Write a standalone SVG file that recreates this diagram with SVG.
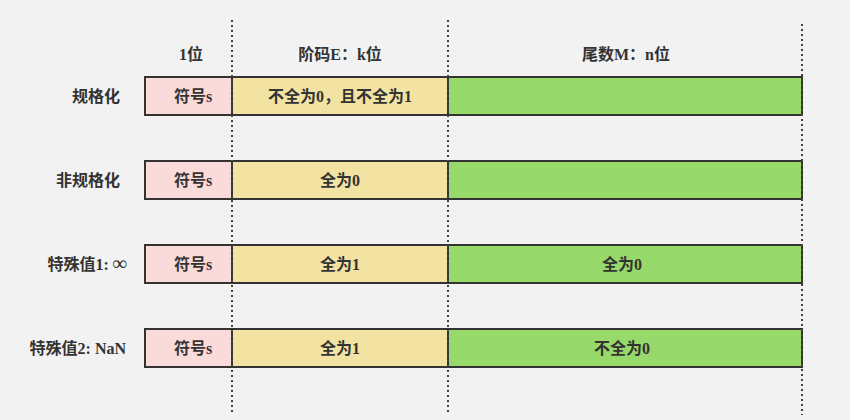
<svg xmlns="http://www.w3.org/2000/svg" width="850" height="420" viewBox="0 0 850 420">
<style>
text{font-family:"Liberation Serif","Noto Sans CJK SC",serif;font-weight:bold;font-size:16px;fill:#333}
.c{text-anchor:middle}
.e{text-anchor:end}
.s{fill:#fadbd9;stroke:#333;stroke-width:2}
.x{fill:#f2e3a3;stroke:#333;stroke-width:2}
.m{fill:#97d96a;stroke:#333;stroke-width:2}
.d{stroke:#444;stroke-width:2;stroke-dasharray:2,3}
</style>
<rect width="850" height="420" fill="#f2f2f2"/>
<g id="headers">
<text class="c" x="191" y="60">1位</text>
<text class="c" x="340" y="60">阶码E：k位</text>
<text class="c" x="626" y="60">尾数M：n位</text>
</g>
<g id="row1">
<text class="e" x="120" y="102">规格化</text>
<rect class="s" x="145" y="77" width="87" height="38"/>
<rect class="x" x="232" y="77" width="216" height="38"/>
<rect class="m" x="448" y="77" width="354" height="38"/>
<text class="c" x="193" y="102">符号s</text>
<text class="c" x="340" y="102">不全为0，且不全为1</text>
</g>
<g id="row2">
<text class="e" x="120" y="186">非规格化</text>
<rect class="s" x="145" y="161" width="87" height="38"/>
<rect class="x" x="232" y="161" width="216" height="38"/>
<rect class="m" x="448" y="161" width="354" height="38"/>
<text class="c" x="193" y="186">符号s</text>
<text class="c" x="340" y="186">全为0</text>
</g>
<g id="row3">
<text class="e" x="127" y="270">特殊值1: <tspan font-size="20">∞</tspan></text>
<rect class="s" x="145" y="245" width="87" height="38"/>
<rect class="x" x="232" y="245" width="216" height="38"/>
<rect class="m" x="448" y="245" width="354" height="38"/>
<text class="c" x="193" y="270">符号s</text>
<text class="c" x="340" y="270">全为1</text>
<text class="c" x="622" y="270">全为0</text>
</g>
<g id="row4">
<text class="e" x="126" y="354">特殊值2: NaN</text>
<rect class="s" x="145" y="329" width="87" height="38"/>
<rect class="x" x="232" y="329" width="216" height="38"/>
<rect class="m" x="448" y="329" width="354" height="38"/>
<text class="c" x="193" y="354">符号s</text>
<text class="c" x="340" y="354">全为1</text>
<text class="c" x="622" y="354">不全为0</text>
</g>
<g id="connectors">
<line class="d" x1="232" y1="20" x2="232" y2="415"/>
<line class="d" x1="448" y1="20" x2="448" y2="415"/>
<line class="d" x1="802" y1="24" x2="802" y2="415"/>
</g>
</svg>
